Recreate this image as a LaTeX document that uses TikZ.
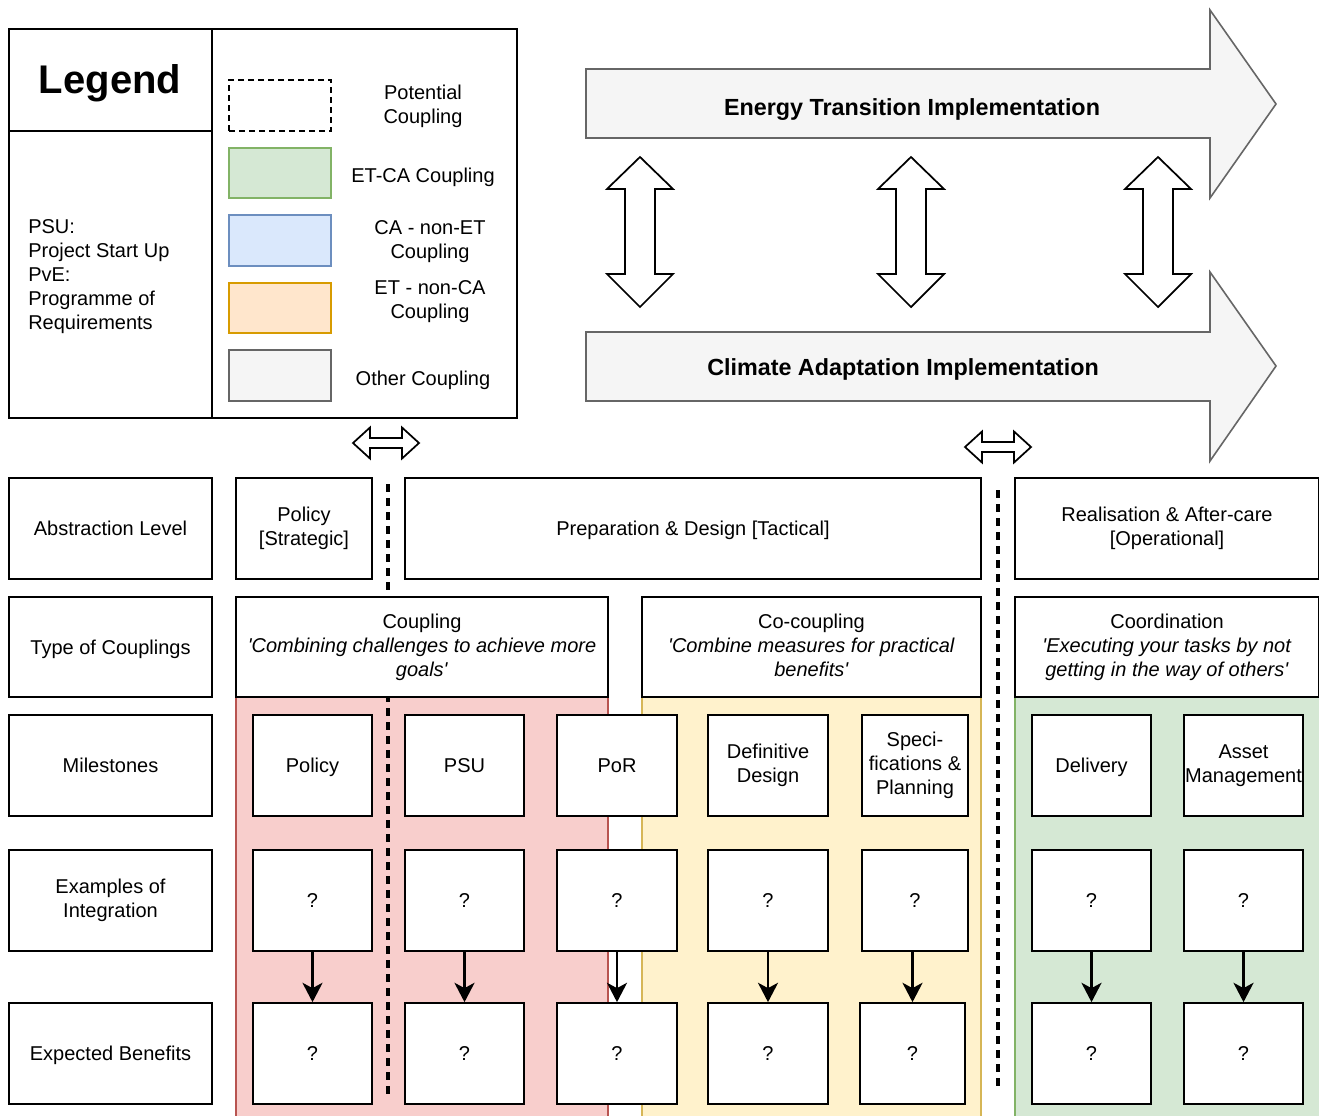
\documentclass[tikz,border=0pt]{standalone}
\usepackage{fontspec}
\setmainfont{Liberation Sans}
\usetikzlibrary{arrows.meta}
\definecolor{redfill}{HTML}{F8CECC}\definecolor{redline}{HTML}{B85450}
\definecolor{yelfill}{HTML}{FFF2CC}\definecolor{yelline}{HTML}{D6B656}
\definecolor{grnfill}{HTML}{D5E8D4}\definecolor{grnline}{HTML}{82B366}
\definecolor{blufill}{HTML}{DAE8FC}\definecolor{bluline}{HTML}{6C8EBF}
\definecolor{orafill}{HTML}{FFE6CC}\definecolor{oraline}{HTML}{D79B00}
\definecolor{gryfill}{HTML}{F5F5F5}\definecolor{gryline}{HTML}{666666}
\newcommand{\fs}{\fontsize{15}{18}\selectfont}
\newcommand{\sx}{\rule[-3.3pt]{0pt}{17.7pt}}
\newcommand{\mybox}[7]{\node[#6, minimum width={(#4-#2)*0.75pt}, minimum height={(#5-#3)*0.75pt}] (#1) at ({(#2+#4)/2},{(#3+#5)/2}) {#7};}
\newcommand{\q}{\textquotesingle}
\begin{document}
\begin{tikzpicture}[x=0.75pt,y=-0.75pt,
  box/.style={draw=black, line width=1.3pt, fill=white, inner sep=0pt, align=center, font=\fs,
    execute at begin node=\sx, execute at end node=\sx},
  region/.style={line width=1.3pt, inner sep=0pt},
  swatch/.style={line width=1.4pt, inner sep=0pt},
  lbl/.style={inner sep=0pt, align=center, font=\fs, execute at begin node=\sx, execute at end node=\sx},
  bigarrow/.style={draw=gryline, fill=gryfill, line width=1.2pt, line join=miter},
  dblarrow/.style={draw=black, fill=white, line width=1.3pt, line join=miter},
  dashline/.style={line width=2.3pt, dash pattern=on 6pt off 4.5pt},
  flow/.style={line width=2pt, -{Stealth[length=14.5pt,width=15pt,inset=4pt]}}]
\useasboundingbox (0,0) rectangle (1319,1115);

% ---------- legend ----------
\mybox{legtitle}{9}{29}{212}{131}{draw=black, line width=1.3pt, inner sep=0pt}{}
\node[inner sep=0pt, font=\fontsize{30}{36}\selectfont\bfseries] (legtxt) at (110,83) {Legend};
\mybox{legleft}{9}{131}{212}{418}{box}{}
\mybox{legright}{212}{29}{517}{418}{box}{}
\node[lbl, align=left, anchor=west] (abbr) at (28,277) {PSU:\\Project Start Up\\PvE:\\Programme of\\Requirements};
\mybox{swpot}{229}{80}{331}{131}{swatch, draw=black, dashed, dash pattern=on 4.5pt off 3pt}{}
\mybox{swgrn}{229}{148}{331}{198}{swatch, draw=grnline, fill=grnfill}{}
\mybox{swblu}{229}{215}{331}{266}{swatch, draw=bluline, fill=blufill}{}
\mybox{swora}{229}{283}{331}{333}{swatch, draw=oraline, fill=orafill}{}
\mybox{swgry}{229}{350}{331}{401}{swatch, draw=gryline, fill=gryfill}{}
\node[lbl] (lpot) at (423,106) {Potential\\Coupling};
\node[lbl] (lgrn) at (423,175) {ET-CA Coupling};
\node[lbl] (lblu) at (430,242) {CA - non-ET\\Coupling};
\node[lbl] (lora) at (430,302) {ET - non-CA\\Coupling};
\node[lbl] (lgry) at (423,378) {Other Coupling};

% ---------- implementation arrows ----------
\draw[bigarrow] (586,69) -- (1210,69) -- (1210,10) -- (1276,104) -- (1210,198) -- (1210,138) -- (586,138) -- cycle;
\draw[bigarrow] (586,332) -- (1210,332) -- (1210,272) -- (1276,366) -- (1210,461) -- (1210,401) -- (586,401) -- cycle;
\node[inner sep=0pt, font=\fontsize{17.5}{21}\selectfont\bfseries] (et) at (912,110) {Energy Transition Implementation};
\node[inner sep=0pt, font=\fontsize{17.5}{21}\selectfont\bfseries] (ca) at (903,369) {Climate Adaptation Implementation};
\foreach \cx in {640,911,1158}{
  \draw[dblarrow] (\cx,157) -- (\cx+33,189) -- (\cx+15,189) -- (\cx+15,274) -- (\cx+33,274) -- (\cx,307)
    -- (\cx-33,274) -- (\cx-15,274) -- (\cx-15,189) -- (\cx-33,189) -- cycle;
}
\foreach \cx/\cy in {386/443,998/447}{
  \draw[dblarrow] (\cx-33,\cy) -- (\cx-16,\cy-15.5) -- (\cx-16,\cy-5) -- (\cx+16,\cy-5) -- (\cx+16,\cy-15.5) -- (\cx+33,\cy)
    -- (\cx+16,\cy+15.5) -- (\cx+16,\cy+5) -- (\cx-16,\cy+5) -- (\cx-16,\cy+15.5) -- cycle;
}

% ---------- coloured regions ----------
\mybox{redreg}{236}{697}{608}{1125}{region, draw=redline, fill=redfill}{}
\mybox{yelreg}{642}{697}{981}{1125}{region, draw=yelline, fill=yelfill}{}
\mybox{grnreg}{1015}{697}{1330}{1125}{region, draw=grnline, fill=grnfill}{}

% ---------- dashed separators ----------
\coordinate (d1a) at (388,484); \coordinate (d1b) at (388,1096);
\coordinate (d2a) at (998,490); \coordinate (d2b) at (998,1090);
\draw[dashline] (d1a) -- (d1b);
\draw[dashline] (d2a) -- (d2b);

% ---------- left column ----------
\mybox{hAbs}{9}{478}{212}{579}{box}{Abstraction Level}
\mybox{hType}{9}{597}{212}{697}{box}{Type of Couplings}
\mybox{hMil}{9}{715}{212}{816}{box}{Milestones}
\mybox{hEx}{9}{850}{212}{951}{box}{Examples of\\Integration}
\mybox{hBen}{9}{1003}{212}{1104}{box}{Expected Benefits}

% ---------- abstraction level ----------
\mybox{aPol}{236}{478}{372}{579}{box}{Policy\\{[}Strategic{]}}
\mybox{aPrep}{405}{478}{981}{579}{box}{Preparation \& Design [Tactical]}
\mybox{aReal}{1015}{478}{1319}{579}{box}{Realisation \& After-care\\{[}Operational{]}}

% ---------- type of couplings ----------
\mybox{tCoup}{236}{597}{608}{697}{box}{Coupling\\\textit{\q Combining challenges to achieve more}\\\textit{goals\q}}
\mybox{tCoco}{642}{597}{981}{697}{box}{Co-coupling\\\textit{\q Combine measures for practical}\\\textit{benefits\q}}
\mybox{tCoor}{1015}{597}{1319}{697}{box}{Coordination\\\textit{\q Executing your tasks by not}\\\textit{getting in the way of others\q}}

% ---------- milestones ----------
\mybox{m1}{253}{715}{372}{816}{box}{Policy}
\mybox{m2}{405}{715}{524}{816}{box}{PSU}
\mybox{m3}{557}{715}{677}{816}{box}{PoR}
\mybox{m4}{708}{715}{828}{816}{box}{Definitive\\Design}
\mybox{m5}{862}{715}{968}{816}{box}{Speci-\\fications \&\\Planning}
\mybox{m6}{1032}{715}{1151}{816}{box}{Delivery}
\mybox{m7}{1184}{715}{1303}{816}{box}{Asset\\Management}

% ---------- examples / benefits ----------
\mybox{e1}{253}{850}{372}{951}{box}{?}
\mybox{e2}{405}{850}{524}{951}{box}{?}
\mybox{e3}{557}{850}{677}{951}{box}{?}
\mybox{e4}{708}{850}{828}{951}{box}{?}
\mybox{e5}{862}{850}{968}{951}{box}{?}
\mybox{e6}{1032}{850}{1151}{951}{box}{?}
\mybox{e7}{1184}{850}{1303}{951}{box}{?}
\mybox{b1}{253}{1003}{372}{1104}{box}{?}
\mybox{b2}{405}{1003}{524}{1104}{box}{?}
\mybox{b3}{557}{1003}{677}{1104}{box}{?}
\mybox{b4}{708}{1003}{828}{1104}{box}{?}
\mybox{b5}{860}{1003}{965}{1104}{box}{?}
\mybox{b6}{1032}{1003}{1151}{1104}{box}{?}
\mybox{b7}{1184}{1003}{1303}{1104}{box}{?}
\foreach \i in {1,...,7}{
  \draw[flow] (b\i.north |- e\i.south) -- (b\i.north);
}
\end{tikzpicture}
\end{document}
